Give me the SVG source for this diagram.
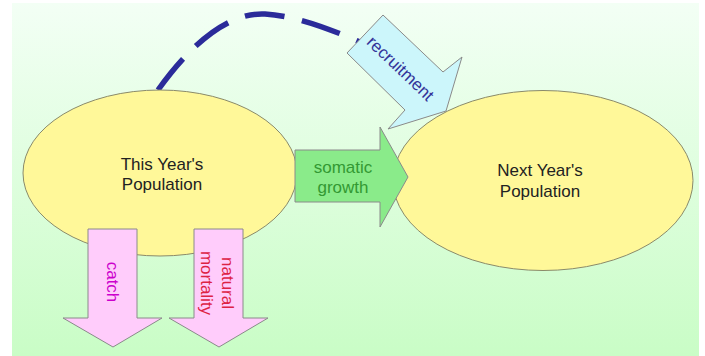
<svg xmlns="http://www.w3.org/2000/svg" width="705" height="356" viewBox="0 0 705 356">
  <defs>
    <linearGradient id="bg" x1="0" y1="0" x2="0" y2="1">
      <stop offset="0" stop-color="#f3fff5"/>
      <stop offset="1" stop-color="#c9fdc6"/>
    </linearGradient>
    <style>
      text { font-family: "Liberation Sans", Arial, sans-serif; font-size: 17px; }
      .ell { fill: #fff899; stroke: #8a8a6a; stroke-width: 1; }
      .pink { fill: #ffccfb; stroke: #8a8a8a; stroke-width: 1; }
      .lbl { fill: #222222; text-anchor: middle; }
    </style>
  </defs>
  <rect x="0" y="0" width="705" height="356" fill="#ffffff"/>
  <rect x="12" y="3" width="687" height="353" fill="url(#bg)"/>

  <g id="connectors">
    <path d="M158,90 C190,45 228,12 265,14 C295,16 325,27 360,42" fill="none" stroke="#2b2b9a" stroke-width="5.5" stroke-dasharray="40 18"/>
  </g>

  <g id="recruitment">
    <polygon points="383,15 443,72 462,57 446,111 388,129 405,110 347,53" fill="#ccf6fb" stroke="#8a8a8a" stroke-width="1"/>
    <text transform="translate(396.5,72.6) rotate(43.6)" x="0" y="0" text-anchor="middle" fill="#333399">recruitment</text>
  </g>

  <g id="this-year">
    <ellipse class="ell" cx="160" cy="173" rx="137" ry="83"/>
    <text class="lbl" x="162" y="170">This Year's</text>
    <text class="lbl" x="162" y="190">Population</text>
  </g>

  <g id="next-year">
    <ellipse class="ell" cx="543" cy="180.5" rx="150" ry="90"/>
    <text class="lbl" x="540" y="176">Next Year's</text>
    <text class="lbl" x="540" y="197">Population</text>
  </g>

  <g id="somatic-growth">
    <polygon points="295,150 380,150 380,127 408,177 380,227 380,202 295,202" fill="#8aeb8a" stroke="#8a8a8a" stroke-width="1"/>
    <text x="343" y="173" text-anchor="middle" fill="#339933">somatic</text>
    <text x="343" y="193" text-anchor="middle" fill="#339933">growth</text>
  </g>

  <g id="catch">
    <polygon class="pink" points="88,229 137,229 137,318 162,318 113,347 63,318 88,318"/>
    <text transform="translate(107,282) rotate(90)" x="0" y="0" text-anchor="middle" fill="#cc00cc">catch</text>
  </g>

  <g id="natural-mortality">
    <polygon class="pink" points="194,229 243,229 243,318 268,318 219,347 169,318 194,318"/>
    <text transform="translate(222,283) rotate(90)" x="0" y="0" text-anchor="middle" fill="#dd2244">natural</text>
    <text transform="translate(201,283) rotate(90)" x="0" y="0" text-anchor="middle" fill="#dd2244">mortality</text>
  </g>
</svg>
